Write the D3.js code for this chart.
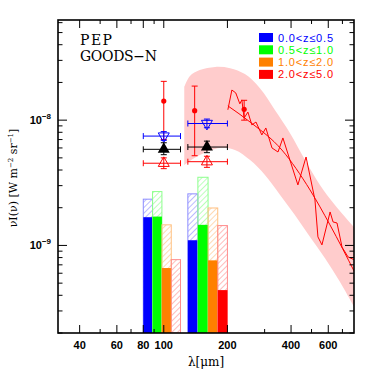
<!DOCTYPE html>
<html>
<head>
<meta charset="utf-8">
<script src="https://cdn.jsdelivr.net/npm/d3@7"></script>
<style>
  body { margin: 0; background: #fff; }
  svg { display: block; }
  .tick-lab { font-family: "Liberation Sans", Arial, sans-serif; font-weight: bold; font-size: 11px; }
</style>
</head>
<body>
<svg id="chart" width="374" height="374"></svg>
<script>
// redshift bins
var zbins = ["0.0<z\u22640.5", "0.5<z\u22641.0", "1.0<z\u22642.0", "2.0<z\u22645.0"];
var zcolors = ["#0000ff", "#00ff00", "#ff8000", "#ff0000"];
var hatchcolors = ["#8c8cff", "#8cff8c", "#ffc080", "#ff8c8c"];

// bar edges (micron) for the two PACS bands
var edges100 = [80, 88.5, 98, 108.5, 120];
var edges160 = [130, 145, 162, 180, 200];
// resolved and total contributions
var resolved100 = [1.68e-9, 1.70e-9, 6.6e-10, 1.8e-10];
var total100 = [2.34e-9, 2.69e-9, 1.46e-9, 7.7e-10];
var resolved160 = [1.10e-9, 1.46e-9, 7.6e-10, 4.4e-10];
var total160 = [2.58e-9, 3.50e-9, 1.99e-9, 1.44e-9];

// PEP points
var pepLam = [100, 160], pepLamLo = [80, 130], pepLamHi = [120, 200];
var pepTotal = [5.85e-9, 6.1e-9], pepTotalLo = [5.3e-9, 5.5e-9], pepTotalHi = [6.6e-9, 6.8e-9];
var pepUpper = [7.46e-9, 9.4e-9], pepUpperLo = [6.9e-9, 8.7e-9], pepUpperHi = [8.1e-9, 1.02e-8];
var pepLower = [4.53e-9, 4.66e-9], pepLowerLo = [4.1e-9, 4.2e-9], pepLowerHi = [5.0e-9, 5.15e-9];

// DIRBE points
var dirbeLam = [100, 140, 240];
var dirbeVal = [1.42e-8, 1.19e-8, 1.22e-8];
var dirbeLo = [7.0e-9, 5.2e-9, 1.0e-8];
var dirbeHi = [2.04e-8, 1.87e-8, 1.44e-8];

// FIRAS band
var bandLam = [125, 133, 148, 175, 206, 242, 285, 336, 395, 466, 548, 645, 800];
var bandUp = [1.84e-8, 2.25e-8, 2.51e-8, 2.66e-8, 2.6e-8, 2.33e-8, 1.8e-8, 1.2e-8, 7.9e-9, 4.8e-9, 3.04e-9, 2.1e-9, 1.38e-9];
var bandLamLow = [125, 148, 184.5, 217, 256, 301, 355, 417, 492, 579, 682, 800];
var bandLow = [4.39e-9, 5.27e-9, 6.0e-9, 5.78e-9, 4.8e-9, 3.65e-9, 2.53e-9, 1.75e-9, 1.17e-9, 7.9e-10, 5.1e-10, 3.17e-10];

// FIRAS fit
var fitLam = [201, 256, 362, 492, 611, 800];
var fitVal = [1.30e-8, 9.66e-9, 5.78e-9, 2.77e-9, 1.46e-9, 6.1e-10];

// FIRAS spectrum
var specLam = [201, 210, 219, 229, 234, 240, 250, 261, 273, 291, 304, 325, 347, 366, 395, 431, 471, 519, 536, 560, 612, 632, 660, 697, 744, 800];
var specVal = [1.21e-8, 1.74e-8, 1.65e-8, 1.35e-8, 1.45e-8, 1.04e-8, 1.16e-8, 9.16e-9, 9.66e-9, 7.62e-9, 8.66e-9, 6.0e-9, 5.57e-9, 7.21e-9, 4.81e-9, 3.04e-9, 5.08e-9, 2.31e-9, 1.17e-9, 1.01e-9, 1.85e-9, 1.54e-9, 1.51e-9, 9.7e-10, 8.1e-10, 7.65e-10];

var xMajor = [40, 60, 80, 100, 200, 400, 600];
var xMinor = [50, 70, 90, 300, 500, 700];

var svg = d3.select("#chart");
var mLeft = 58, mRight = 354, mTop = 20, mBottom = 333;

var x = d3.scaleLog().domain([31.6, 794]).range([mLeft, mRight]);
var y = d3.scaleLog().domain([2e-10, 6.3e-8]).range([mBottom, mTop]);

var defs = svg.append("defs");
defs.append("clipPath").attr("id", "clip")
  .append("rect").attr("x", mLeft).attr("y", mTop).attr("width", mRight - mLeft).attr("height", mBottom - mTop);
hatchcolors.forEach(function(c, i) {
  var p = defs.append("pattern").attr("id", "hatch" + i)
    .attr("patternUnits", "userSpaceOnUse").attr("width", 4).attr("height", 4)
    .attr("patternTransform", "rotate(45)");
  p.append("line").attr("x1", 0).attr("y1", 0).attr("x2", 0).attr("y2", 4)
    .attr("stroke", c).attr("stroke-width", 1.2);
});

var plot = svg.append("g").attr("clip-path", "url(#clip)");

// band: upper edge left->right, lower edge right->left
var bandLine = d3.line().curve(d3.curveCatmullRom);
var upPts = bandLam.map(function(l, i) { return [x(l), y(bandUp[i])]; });
var lowPts = bandLamLow.map(function(l, i) { return [x(l), y(bandLow[i])]; }).reverse();
plot.append("path")
  .attr("d", bandLine(upPts) + "L" + bandLine(lowPts).slice(1) + "Z")
  .attr("fill", "#ffcccc");

// bars
function drawBars(edges, resolved, total) {
  for (var i = 0; i < 4; i++) {
    var x0 = x(edges[i]), x1 = x(edges[i + 1]);
    plot.append("rect")
      .attr("x", x0).attr("width", x1 - x0)
      .attr("y", y(total[i])).attr("height", mBottom - y(total[i]))
      .attr("fill", "url(#hatch" + i + ")")
      .attr("stroke", hatchcolors[i]).attr("stroke-width", 1);
    plot.append("rect")
      .attr("x", x0).attr("width", x1 - x0)
      .attr("y", y(resolved[i])).attr("height", Math.max(0, mBottom - y(resolved[i])))
      .attr("fill", zcolors[i]);
  }
}
drawBars(edges100, resolved100, total100);
drawBars(edges160, resolved160, total160);

// FIRAS lines
var line = d3.line().x(function(d) { return x(d[0]); }).y(function(d) { return y(d[1]); });
plot.append("path")
  .attr("d", line.curve(d3.curveMonotoneX)(d3.zip(fitLam, fitVal)))
  .attr("fill", "none").attr("stroke", "#ff0000").attr("stroke-width", 1);
plot.append("path")
  .attr("d", line.curve(d3.curveLinear)(d3.zip(specLam, specVal)))
  .attr("fill", "none").attr("stroke", "#ff0000").attr("stroke-width", 1);

// error bar helper
function errbar(g, cx, ylo, yhi, xlo, xhi, cy, color, cap) {
  if (xlo != null) {
    g.append("line").attr("x1", xlo).attr("x2", xhi).attr("y1", cy).attr("y2", cy).attr("stroke", color);
    g.append("line").attr("x1", xlo).attr("x2", xlo).attr("y1", cy - cap).attr("y2", cy + cap).attr("stroke", color);
    g.append("line").attr("x1", xhi).attr("x2", xhi).attr("y1", cy - cap).attr("y2", cy + cap).attr("stroke", color);
  }
  if (ylo != null) {
    g.append("line").attr("x1", cx).attr("x2", cx).attr("y1", ylo).attr("y2", yhi).attr("stroke", color);
    g.append("line").attr("x1", cx - cap).attr("x2", cx + cap).attr("y1", ylo).attr("y2", ylo).attr("stroke", color);
    g.append("line").attr("x1", cx - cap).attr("x2", cx + cap).attr("y1", yhi).attr("y2", yhi).attr("stroke", color);
  }
}

function tri(cx, cy, s, down) {
  var h = s * 0.87;
  if (down) return "M" + (cx - s / 2) + "," + (cy - h / 3) + "L" + (cx + s / 2) + "," + (cy - h / 3) + "L" + cx + "," + (cy + 2 * h / 3) + "Z";
  return "M" + (cx - s / 2) + "," + (cy + h / 3) + "L" + (cx + s / 2) + "," + (cy + h / 3) + "L" + cx + "," + (cy - 2 * h / 3) + "Z";
}

var marks = plot.append("g");
// DIRBE
dirbeLam.forEach(function(l, i) {
  errbar(marks, x(l), y(dirbeLo[i]), y(dirbeHi[i]), null, null, 0, "#ff0000", 3);
  marks.append("circle").attr("cx", x(l)).attr("cy", y(dirbeVal[i])).attr("r", 2.6).attr("fill", "#ff0000");
});
// PEP
pepLam.forEach(function(l, i) {
  var cx = x(l), xl = x(pepLamLo[i]), xh = x(pepLamHi[i]);
  errbar(marks, cx, y(pepUpperLo[i]), y(pepUpperHi[i]), xl, xh, y(pepUpper[i]), "#0000ff", 3);
  marks.append("path").attr("d", tri(cx, y(pepUpper[i]), 11, true)).attr("fill", "none").attr("stroke", "#0000ff");
  errbar(marks, cx, y(pepLowerLo[i]), y(pepLowerHi[i]), xl, xh, y(pepLower[i]), "#ff0000", 3);
  marks.append("path").attr("d", tri(cx, y(pepLower[i]), 11, false)).attr("fill", "none").attr("stroke", "#ff0000");
  errbar(marks, cx, y(pepTotalLo[i]), y(pepTotalHi[i]), xl, xh, y(pepTotal[i]), "#000000", 3);
  marks.append("path").attr("d", tri(cx, y(pepTotal[i]), 12, false)).attr("fill", "#000");
});

// axes ticks
var ax = svg.append("g");
var yMajor = [1e-9, 1e-8];
var yMinor = [];
[1e-10, 1e-9, 1e-8].forEach(function(d) { for (var k = 2; k <= 9; k++) yMinor.push(d * k); });
yMinor = yMinor.filter(function(v) { return v >= 2e-10 && v <= 6.3e-8; });

function tickX(v, len) {
  ax.append("line").attr("x1", x(v)).attr("x2", x(v)).attr("y1", mBottom).attr("y2", mBottom - len).attr("stroke", "#000");
  ax.append("line").attr("x1", x(v)).attr("x2", x(v)).attr("y1", mTop).attr("y2", mTop + len).attr("stroke", "#000");
}
function tickY(v, len) {
  ax.append("line").attr("y1", y(v)).attr("y2", y(v)).attr("x1", mLeft).attr("x2", mLeft + len).attr("stroke", "#000");
  ax.append("line").attr("y1", y(v)).attr("y2", y(v)).attr("x1", mRight).attr("x2", mRight - len).attr("stroke", "#000");
}
xMajor.forEach(function(v) { tickX(v, 8); });
xMinor.forEach(function(v) { tickX(v, 4); });
yMajor.forEach(function(v) { tickY(v, 9); });
yMinor.forEach(function(v) { tickY(v, 4.5); });

svg.append("rect").attr("x", mLeft).attr("y", mTop).attr("width", mRight - mLeft).attr("height", mBottom - mTop)
  .attr("fill", "none").attr("stroke", "#000").attr("stroke-width", 1.6);

// tick labels
svg.selectAll(".xl").data(xMajor).enter().append("text")
  .attr("class", "tick-lab")
  .attr("x", function(d) { return x(d); }).attr("y", 349)
  .attr("text-anchor", "middle").text(function(d) { return d; });

yMajor.forEach(function(v, i) {
  var t = svg.append("text").attr("class", "tick-lab").attr("x", 51).attr("y", y(v) + 4).attr("text-anchor", "end");
  t.append("tspan").text("10");
  t.append("tspan").attr("dy", -5).attr("font-size", 8).text(i == 0 ? "\u22129" : "\u22128");
});

// axis titles
svg.append("text").attr("x", 206).attr("y", 366).attr("text-anchor", "middle")
  .attr("font-family", "DejaVu Serif, serif").attr("font-size", 12)
  .text("\u03bb[\u03bcm]");
var yl = svg.append("text").attr("transform", "translate(17,178) rotate(-90)").attr("text-anchor", "middle")
  .attr("font-family", "DejaVu Serif, serif").attr("font-size", 11);
yl.append("tspan").text("\u03bdI(\u03bd)  [W m");
yl.append("tspan").attr("dy", -4).attr("font-size", 7).text("\u22122");
yl.append("tspan").attr("dy", 4).text(" sr");
yl.append("tspan").attr("dy", -4).attr("font-size", 7).text("\u22121");
yl.append("tspan").attr("dy", 4).text("]");

// PEP label
svg.append("text").attr("x", 80).attr("y", 45).attr("font-family", "DejaVu Serif, serif").attr("font-size", 14)
  .attr("textLength", 32).text("PEP");
svg.append("text").attr("x", 80).attr("y", 61).attr("font-family", "DejaVu Serif, serif").attr("font-size", 14)
  .attr("textLength", 77).text("GOODS\u2212N");

// legend
var leg = svg.append("g").attr("transform", "translate(259,33)");
zbins.forEach(function(z, i) {
  leg.append("rect").attr("x", 0).attr("y", i * 12.3).attr("width", 14).attr("height", 9).attr("fill", zcolors[i]);
  leg.append("text").attr("x", 19).attr("y", i * 12.3 + 8.5)
    .attr("font-family", "Liberation Sans, Arial, sans-serif").attr("font-size", 11)
    .attr("textLength", 55)
    .attr("fill", zcolors[i]).text(z);
});
</script>
</body>
</html>
